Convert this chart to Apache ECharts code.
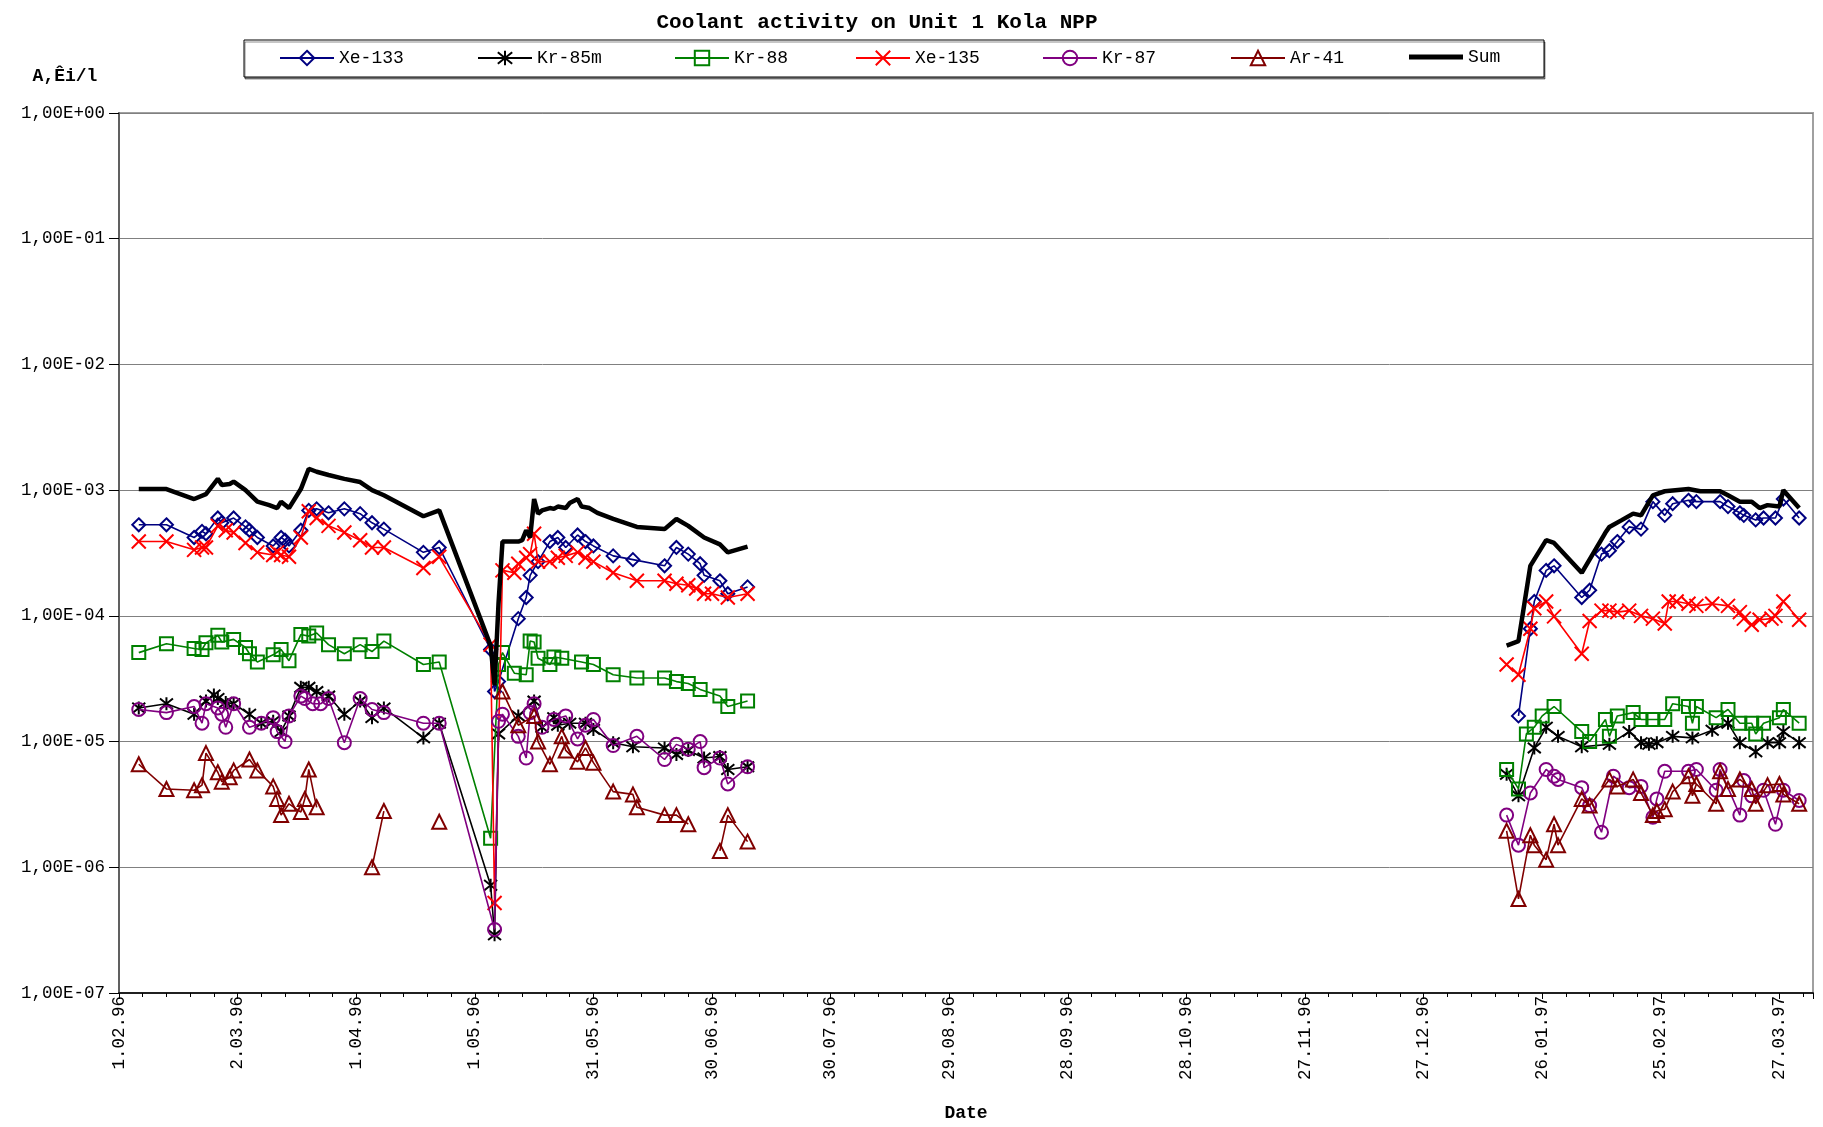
<!DOCTYPE html>
<html>
<head>
<meta charset="utf-8">
<script src="https://cdn.jsdelivr.net/npm/echarts@6/dist/echarts.min.js"></script>
<style>
html,body{margin:0;padding:0;background:#fff;}
#chart{width:1823px;height:1127px;}
</style>
</head>
<body>
<div id="chart"></div>
<script>
// x values: days since 01.02.1996 ; y values: activity, Ci/l
const GAP = [250, '-'];

const xe133 = [
  [5,5.3e-4],[12,5.3e-4],[19,4.2e-4],[21,4.7e-4],[22,4.5e-4],[25,6.0e-4],[26,5.5e-4],[29,6.0e-4],
  [32,5.1e-4],[33,4.8e-4],[35,4.2e-4],[39,3.6e-4],[41,4.2e-4],[42,4.0e-4],[43,3.6e-4],[46,4.8e-4],
  [48,6.9e-4],[50,7.1e-4],[53,6.6e-4],[57,7.1e-4],[61,6.5e-4],[64,5.5e-4],[67,4.9e-4],[77,3.2e-4],
  [81,3.5e-4],[94,5.4e-5],[95,2.5e-5],[96,3.0e-5],[101,9.5e-5],[103,1.4e-4],[104,2.1e-4],[106,2.7e-4],
  [109,3.9e-4],[111,4.2e-4],[113,3.5e-4],[116,4.4e-4],[118,3.9e-4],[120,3.6e-4],[125,3.0e-4],[130,2.8e-4],
  [138,2.5e-4],[141,3.5e-4],[144,3.1e-4],[147,2.6e-4],[148,2.1e-4],[152,1.9e-4],[154,1.5e-4],[159,1.7e-4],
  GAP,
  [354,1.6e-5],[357,7.9e-5],[358,1.3e-4],[361,2.3e-4],[363,2.5e-4],[370,1.4e-4],[372,1.6e-4],[375,3.1e-4],
  [377,3.3e-4],[379,3.9e-4],[382,5.1e-4],[385,4.9e-4],[388,8.1e-4],[391,6.3e-4],[393,7.8e-4],[397,8.3e-4],
  [399,8.1e-4],[405,8.1e-4],[407,7.4e-4],[410,6.6e-4],[411,6.3e-4],[414,5.8e-4],[416,6.0e-4],[419,6.0e-4],
  [421,8.5e-4],[425,6.0e-4]
];

const kr85m = [
  [5,1.85e-5],[12,2.0e-5],[19,1.65e-5],[22,2.1e-5],[24,2.35e-5],[25,2.2e-5],[27,2.05e-5],[29,2.0e-5],
  [33,1.65e-5],[36,1.4e-5],[39,1.45e-5],[41,1.2e-5],[43,1.6e-5],[46,2.7e-5],[48,2.7e-5],[50,2.5e-5],
  [53,2.3e-5],[57,1.65e-5],[61,2.1e-5],[64,1.55e-5],[67,1.85e-5],[77,1.07e-5],[81,1.4e-5],[94,7.2e-7],
  [95,2.9e-7],[96,1.15e-5],[101,1.6e-5],[105,2.1e-5],[107,1.3e-5],[110,1.55e-5],[111,1.35e-5],[114,1.4e-5],
  [118,1.4e-5],[120,1.25e-5],[125,9.8e-6],[130,9.1e-6],[138,8.9e-6],[141,7.9e-6],[144,8.5e-6],[148,7.4e-6],
  [152,7.6e-6],[154,6.0e-6],[159,6.3e-6],
  GAP,
  [351,5.5e-6],[354,3.7e-6],[358,8.9e-6],[361,1.3e-5],[364,1.1e-5],[370,9.1e-6],[377,9.5e-6],[382,1.2e-5],
  [385,9.8e-6],[387,9.5e-6],[389,9.8e-6],[393,1.1e-5],[398,1.07e-5],[403,1.23e-5],[407,1.4e-5],[410,9.8e-6],
  [414,8.3e-6],[417,9.8e-6],[420,9.8e-6],[421,1.2e-5],[425,9.8e-6]
];

const kr88 = [
  [5,5.1e-5],[12,6.0e-5],[19,5.5e-5],[21,5.4e-5],[22,6.1e-5],[25,7.0e-5],[26,6.2e-5],[29,6.5e-5],
  [32,5.6e-5],[33,5.0e-5],[35,4.3e-5],[39,4.9e-5],[41,5.4e-5],[43,4.4e-5],[46,7.1e-5],[48,6.9e-5],
  [50,7.3e-5],[53,5.9e-5],[57,5.0e-5],[61,5.9e-5],[64,5.2e-5],[67,6.3e-5],[77,4.1e-5],[81,4.3e-5],
  [94,1.7e-6],[96,4.1e-5],[97,5.1e-5],[100,3.5e-5],[103,3.4e-5],[104,6.3e-5],[105,6.2e-5],[106,4.6e-5],
  [109,4.1e-5],[110,4.7e-5],[112,4.6e-5],[117,4.3e-5],[120,4.1e-5],[125,3.4e-5],[131,3.2e-5],[138,3.2e-5],
  [141,3.0e-5],[144,2.9e-5],[147,2.6e-5],[152,2.3e-5],[154,1.9e-5],[159,2.1e-5],
  GAP,
  [351,6.0e-6],[354,4.2e-6],[356,1.15e-5],[358,1.3e-5],[360,1.6e-5],[363,1.9e-5],[370,1.2e-5],[372,1.0e-5],
  [376,1.5e-5],[377,1.1e-5],[379,1.6e-5],[383,1.7e-5],[385,1.5e-5],[388,1.5e-5],[391,1.5e-5],[393,2.0e-5],
  [397,1.9e-5],[398,1.4e-5],[399,1.9e-5],[404,1.55e-5],[407,1.8e-5],[410,1.4e-5],[413,1.4e-5],[414,1.15e-5],
  [416,1.4e-5],[420,1.55e-5],[421,1.8e-5],[425,1.4e-5]
];

const xe135 = [
  [5,3.9e-4],[12,3.9e-4],[19,3.35e-4],[21,3.5e-4],[22,3.5e-4],[25,5.2e-4],[27,4.8e-4],[29,4.6e-4],
  [32,3.8e-4],[35,3.2e-4],[39,3.05e-4],[40,3.2e-4],[41,3.05e-4],[43,2.95e-4],[46,4.2e-4],[48,6.8e-4],
  [50,6.0e-4],[53,5.2e-4],[57,4.6e-4],[61,4.0e-4],[64,3.5e-4],[67,3.5e-4],[77,2.4e-4],[81,2.95e-4],
  [94,5.9e-5],[95,5.2e-7],[97,2.3e-4],[100,2.2e-4],[101,2.6e-4],[103,2.9e-4],[104,3.1e-4],[105,4.5e-4],
  [106,2.7e-4],[109,2.7e-4],[111,2.9e-4],[113,3.0e-4],[116,3.2e-4],[118,2.9e-4],[120,2.7e-4],[125,2.2e-4],
  [131,1.9e-4],[138,1.9e-4],[141,1.8e-4],[144,1.75e-4],[146,1.65e-4],[148,1.5e-4],[150,1.5e-4],[154,1.4e-4],
  [159,1.5e-4],
  GAP,
  [351,4.1e-5],[354,3.4e-5],[357,7.9e-5],[358,1.15e-4],[361,1.3e-4],[363,9.9e-5],[370,5.0e-5],[372,9.1e-5],
  [375,1.1e-4],[377,1.1e-4],[379,1.07e-4],[382,1.1e-4],[385,1.0e-4],[388,9.5e-5],[391,8.7e-5],[392,1.3e-4],
  [394,1.3e-4],[397,1.25e-4],[399,1.2e-4],[403,1.25e-4],[407,1.2e-4],[410,1.07e-4],[411,9.5e-5],[413,8.5e-5],
  [415,9.3e-5],[418,9.5e-5],[419,1.0e-4],[421,1.3e-4],[425,9.3e-5]
];

const kr87 = [
  [5,1.8e-5],[12,1.7e-5],[19,1.9e-5],[21,1.4e-5],[22,2.0e-5],[25,1.85e-5],[26,1.65e-5],[27,1.3e-5],
  [29,2.0e-5],[33,1.3e-5],[36,1.4e-5],[39,1.55e-5],[40,1.2e-5],[42,1.0e-5],[43,1.6e-5],[46,2.3e-5],
  [47,2.2e-5],[49,2.0e-5],[51,2.0e-5],[53,2.2e-5],[57,9.8e-6],[61,2.2e-5],[64,1.8e-5],[67,1.7e-5],
  [77,1.4e-5],[81,1.4e-5],[95,3.2e-7],[96,1.45e-5],[97,1.65e-5],[101,1.1e-5],[103,7.4e-6],[104,1.7e-5],
  [105,2.0e-5],[107,1.3e-5],[110,1.5e-5],[113,1.6e-5],[116,1.05e-5],[118,1.35e-5],[120,1.5e-5],[125,9.3e-6],
  [131,1.1e-5],[138,7.2e-6],[141,9.5e-6],[144,8.7e-6],[147,1.0e-5],[148,6.2e-6],[152,7.4e-6],[154,4.6e-6],
  [159,6.3e-6],
  GAP,
  [351,2.6e-6],[354,1.5e-6],[357,3.9e-6],[361,6.0e-6],[363,5.3e-6],[364,5.0e-6],[370,4.3e-6],[372,3.1e-6],
  [375,1.9e-6],[378,5.3e-6],[382,4.3e-6],[385,4.4e-6],[388,2.5e-6],[389,3.5e-6],[391,5.8e-6],[397,5.8e-6],
  [399,6.0e-6],[404,4.1e-6],[405,6.0e-6],[410,2.6e-6],[411,4.9e-6],[413,3.7e-6],[416,4.1e-6],[419,2.2e-6],
  [421,4.1e-6],[425,3.4e-6]
];

const ar41 = [
  [5,6.6e-6],[12,4.2e-6],[19,4.1e-6],[21,4.5e-6],[22,8.1e-6],[25,5.7e-6],[26,4.8e-6],[28,5.2e-6],
  [29,5.9e-6],[33,7.2e-6],[35,5.9e-6],[39,4.4e-6],[40,3.5e-6],[41,2.6e-6],[43,3.2e-6],[46,2.75e-6],
  [47,3.5e-6],[48,6.0e-6],[50,3.0e-6],
  [55,'-'],
  [64,1.0e-6],[67,2.8e-6],
  [72,'-'],
  [81,2.3e-6],
  [90,'-'],
  [97,2.5e-5],[101,1.35e-5],[105,1.6e-5],[106,1.0e-5],[109,6.6e-6],[112,1.1e-5],[113,8.5e-6],[116,6.9e-6],
  [118,8.9e-6],[120,6.8e-6],[125,4.0e-6],[130,3.8e-6],[131,3.0e-6],[138,2.6e-6],[141,2.6e-6],[144,2.2e-6],
  [148,'-'],
  [152,1.35e-6],[154,2.6e-6],[159,1.6e-6],
  GAP,
  [351,1.95e-6],[354,5.6e-7],[357,1.8e-6],[358,1.5e-6],[361,1.15e-6],[363,2.2e-6],[364,1.5e-6],[370,3.5e-6],
  [372,3.1e-6],[377,5.0e-6],[379,4.4e-6],[383,5.0e-6],[385,3.9e-6],[388,2.6e-6],[389,2.8e-6],[391,2.9e-6],
  [393,4.0e-6],[397,5.3e-6],[398,3.7e-6],[399,4.6e-6],[404,3.2e-6],[405,5.8e-6],[407,4.2e-6],[410,5.0e-6],
  [413,4.2e-6],[414,3.2e-6],[417,4.5e-6],[420,4.6e-6],[421,3.8e-6],[425,3.2e-6]
];

const sum = [
  [5,1.02e-3],[12,1.02e-3],[19,8.5e-4],[22,9.3e-4],[25,1.23e-3],[26,1.1e-3],[28,1.12e-3],[29,1.17e-3],
  [32,1.0e-3],[35,8.1e-4],[38,7.6e-4],[40,7.2e-4],[41,8.1e-4],[43,7.2e-4],[46,1.02e-3],[48,1.48e-3],
  [50,1.4e-3],[53,1.32e-3],[57,1.23e-3],[61,1.16e-3],[64,1.0e-3],[67,9.1e-4],[77,6.2e-4],[81,6.9e-4],
  [94,5.8e-5],[95,2.8e-5],[96,1.26e-4],[97,3.9e-4],[101,3.9e-4],[102,4.0e-4],[103,4.8e-4],[104,4.2e-4],
  [105,8.5e-4],[106,6.5e-4],[107,6.9e-4],[109,7.2e-4],[110,7.1e-4],[111,7.4e-4],[113,7.2e-4],[114,7.9e-4],
  [116,8.5e-4],[117,7.4e-4],[119,7.2e-4],[121,6.6e-4],[125,5.9e-4],[131,5.1e-4],[138,4.9e-4],[141,5.9e-4],
  [144,5.2e-4],[148,4.2e-4],[152,3.7e-4],[154,3.2e-4],[159,3.55e-4],
  GAP,
  [351,5.8e-5],[354,6.3e-5],[357,2.5e-4],[361,4.0e-4],[363,3.8e-4],[370,2.2e-4],[376,4.6e-4],[377,5.1e-4],
  [380,5.75e-4],[383,6.5e-4],[385,6.3e-4],[388,9.1e-4],[391,9.8e-4],[397,1.02e-3],[400,9.8e-4],[405,9.8e-4],
  [407,9.1e-4],[410,8.1e-4],[413,8.1e-4],[415,7.2e-4],[417,7.6e-4],[420,7.4e-4],[421,1.0e-3],[425,7.2e-4]
];

const seriesNames = ['Xe-133','Kr-85m','Kr-88','Xe-135','Kr-87','Ar-41','Sum'];
const seriesData = [xe133, kr85m, kr88, xe135, kr87, ar41, sum];
const seriesColors = ['#000080','#000000','#008000','#FF0000','#800080','#800000','#000000'];

const START = Date.UTC(1996, 1, 1);
function dayLabel(v) {
  if (Math.abs(v % 30) > 1e-6) return '';
  const d = new Date(START + v * 86400000);
  const dd = d.getUTCDate();
  const mm = String(d.getUTCMonth() + 1).padStart(2, '0');
  const yy = String(d.getUTCFullYear() % 100).padStart(2, '0');
  return dd + '.' + mm + '.' + yy;
}
function expLabel(v) {
  const e = Math.round(Math.log10(v));
  return '1,00E' + (e < 0 ? '-' : '+') + String(Math.abs(e)).padStart(2, '0');
}

const MONO = 'Liberation Mono';
const symbols = [
  'diamond',
  'path://M1,1L9,9M9,1L1,9M5,0L5,10',
  'rect',
  'path://M0,0L10,10M10,0L0,10',
  'circle',
  'triangle',
  'none'
];
const symbolSizes = [13, 13, 13, 14, 13, 14, 0];

const series = seriesNames.map((name, i) => {
  const isSum = name === 'Sum';
  return {
    name: name,
    type: 'line',
    data: seriesData[i],
    symbol: symbols[i],
    symbolSize: symbolSizes[i],
    showSymbol: !isSum,
    connectNulls: false,
    lineStyle: { color: seriesColors[i], width: isSum ? 4.5 : 1.6 },
    itemStyle: { color: 'rgba(0,0,0,0)', borderColor: seriesColors[i], borderWidth: 2 },
    emphasis: { disabled: true },
    z: 2 + i
  };
});

const legendX = [279, 477, 674, 855, 1042, 1230, 1409];
const legends = seriesNames.map((n, i) => {
  const isSum = n === 'Sum';
  const lg = {
    data: [isSum ? { name: n, icon: 'rect' } : n],
    left: legendX[i],
    top: isSum ? 48 : 49,
    padding: 0,
    itemWidth: 54,
    itemHeight: isSum ? 5 : 18,
    selectedMode: false,
    textStyle: { fontFamily: MONO, fontSize: 18, color: '#000' }
  };
  if (isSum) lg.itemStyle = { color: '#000', borderWidth: 0 };
  return lg;
});

const chart = echarts.init(document.getElementById('chart'), null, { renderer: 'canvas' });
chart.setOption({
  animation: false,
  backgroundColor: '#fff',
  title: {
    text: 'Coolant activity on Unit 1 Kola NPP',
    left: 872,
    top: 7,
    textAlign: 'center',
    textStyle: { fontFamily: MONO, fontWeight: 'bold', fontSize: 21, color: '#000' }
  },
  legend: legends,
  graphic: [{
    type: 'rect',
    shape: { x: 244, y: 40, width: 1300, height: 37 },
    style: { fill: '#fff', stroke: '#000', lineWidth: 1, shadowColor: 'rgba(0,0,0,0.45)', shadowOffsetX: 1, shadowOffsetY: 2, shadowBlur: 0 },
    z: 1
  }],
  grid: { left: 119, right: 10, top: 113, bottom: 131, show: true, borderColor: '#a0a0a0', borderWidth: 2, backgroundColor: 'transparent' },
  xAxis: {
    type: 'value',
    min: 0,
    max: 428.5,
    interval: 30,
    name: 'Date',
    nameLocation: 'middle',
    nameGap: 111,
    nameTextStyle: { fontFamily: MONO, fontWeight: 'bold', fontSize: 18, color: '#000' },
    axisLine: { show: true, onZero: false, lineStyle: { color: '#202020', width: 2 } },
    axisTick: { show: true, length: 6, lineStyle: { color: '#000' } },
    minorTick: { show: true, splitNumber: 5, length: 4, lineStyle: { color: '#000' } },
    splitLine: { show: false },
    minorSplitLine: { show: false },
    axisLabel: { rotate: 90, margin: 3, formatter: dayLabel, fontFamily: MONO, fontSize: 17.5, color: '#000', showMaxLabel: false }
  },
  yAxis: {
    type: 'log',
    logBase: 10,
    min: 1e-7,
    max: 1,
    splitNumber: 7,
    name: 'A,Êi/l',
    nameLocation: 'end',
    nameGap: 28,
    nameTextStyle: { fontFamily: MONO, fontWeight: 'bold', fontSize: 18, color: '#000', align: 'center', padding: [0, 108, 0, 0] },
    axisLine: { show: true, lineStyle: { color: '#606060', width: 2 } },
    axisTick: { show: true, length: 10, lineStyle: { color: '#000' } },
    minorTick: { show: false },
    splitLine: { show: true, lineStyle: { color: '#808080', width: 1 } },
    axisLabel: { formatter: expLabel, fontFamily: MONO, fontSize: 17.5, color: '#000', margin: 14 }
  },
  series: series
});
</script>
</body>
</html>
